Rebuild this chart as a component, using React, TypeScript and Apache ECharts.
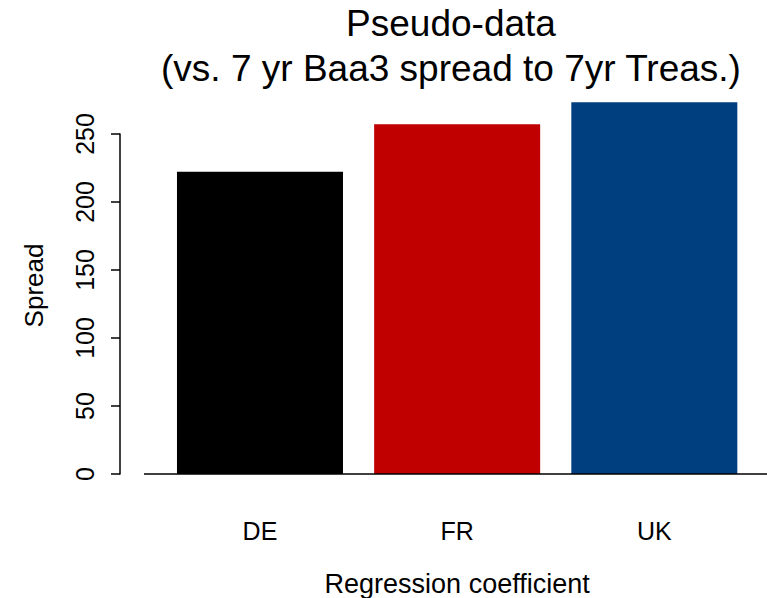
import React, { useEffect, useRef } from "react";
import * as echarts from "echarts";

const categories = ["DE", "FR", "UK"];
const spreadValues = [222.3, 257.1, 273.3];
const barColors = ["#000000", "#C00000", "#003F7F"];
const yTicks = { min: 0, max: 250, interval: 50 };
const titleLines = ["Pseudo-data", "(vs. 7 yr Baa3 spread to 7yr Treas.)"];
const xName = "Regression coefficient";
const yName = "Spread";

const FONT = "'Liberation Sans', Arial, Helvetica, sans-serif";

export default function App() {
  const ref = useRef<HTMLDivElement>(null);
  useEffect(() => {
    if (!ref.current) return;
    const chart = echarts.init(ref.current, undefined, { renderer: "svg" });
    const gridBottomY = 474;
    chart.setOption({
      animation: false,
      backgroundColor: "#ffffff",
      textStyle: { fontFamily: FONT },
      grid: {
        left: 161.4,
        right: 14.1,
        top: 134,
        bottom: 598 - gridBottomY,
        containLabel: false,
        outerBoundsMode: "none",
      },
      xAxis: {
        type: "category",
        data: categories,
        axisLine: { show: false },
        axisTick: { show: false },
        axisLabel: { color: "#000", fontSize: 25, margin: 44, fontFamily: FONT },
        name: xName,
        nameLocation: "middle",
        nameGap: 96,
        nameTextStyle: { color: "#000", fontSize: 27, fontFamily: FONT },
      },
      yAxis: {
        type: "value",
        min: yTicks.min,
        max: yTicks.max,
        interval: yTicks.interval,
        offset: 41.4,
        splitLine: { show: false },
        axisLine: { show: true, lineStyle: { color: "#000", width: 1.5 } },
        axisTick: { show: true, length: 9, lineStyle: { color: "#000", width: 1.5 } },
        axisLabel: { color: "#000", fontSize: 25, rotate: 90, margin: 23, fontFamily: FONT },
        name: yName,
        nameLocation: "middle",
        nameGap: 73,
        nameTextStyle: { color: "#000", fontSize: 26, fontFamily: FONT, padding: [0, 0, 0, 37] },
      },
      series: [
        {
          type: "bar",
          clip: false,
          barWidth: "84.2%",
          data: spreadValues.map((v, i) => ({ value: v, itemStyle: { color: barColors[i] } })),
        },
      ],
      graphic: [
        {
          type: "line",
          shape: { x1: 144, y1: gridBottomY, x2: 767, y2: gridBottomY },
          style: { stroke: "#000", lineWidth: 1.5 },
          z: 10,
        },
        {
          type: "text",
          x: 451,
          y: 1,
          style: {
            text: titleLines.join("\n"),
            fontSize: 37,
            lineHeight: 45,
            fontFamily: FONT,
            fill: "#000",
            textAlign: "center",
            textVerticalAlign: "top",
          },
        },
      ],
    });
    return () => chart.dispose();
  }, []);
  return (
    <div
      ref={ref}
      style={{ position: "fixed", left: 0, top: 0, width: 767, height: 598, background: "#fff" }}
    />
  );
}
